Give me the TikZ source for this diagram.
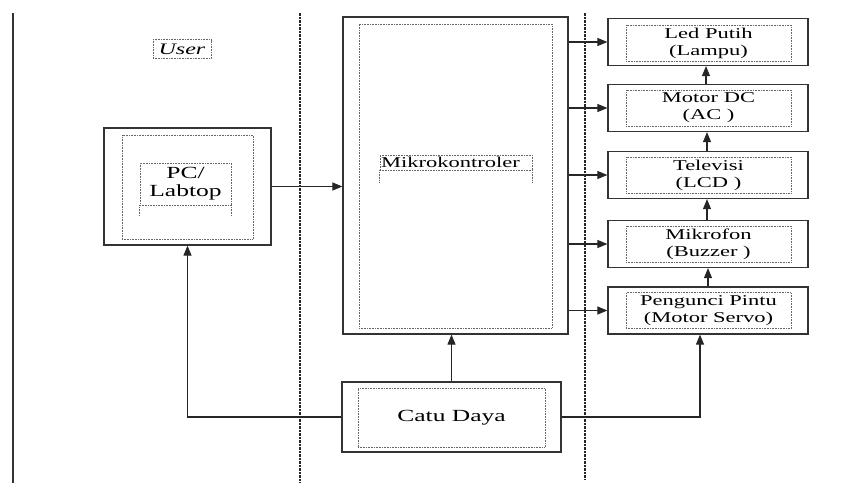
\documentclass[tikz,border=0pt]{standalone}
\usepackage{fontspec}
\setmainfont{Liberation Serif}[FakeStretch=1.5]
\newfontfamily\diagfont{Liberation Serif}[FakeStretch=1.5]
\usepackage{tikz}
\usetikzlibrary{positioning, arrows.meta, calc}

\begin{document}
\begin{tikzpicture}[
    x=1pt, y=-1pt,
    every node/.style={font=\diagfont\fontsize{15}{17}\selectfont, inner sep=1pt},
    outer/.style={draw=black!80, line width=1.2pt},
    inner/.style={draw=black!60, densely dotted, line width=0.6pt},
    lblbox/.style={draw=black!60, densely dotted, line width=0.6pt, align=center},
    arrow/.style={-{Triangle[length=10pt, width=8pt]}, line width=1.1pt, black!85},
    sepline/.style={black!85, line width=2pt, dash pattern=on 2.5pt off 1pt},
  ]

  \useasboundingbox (0,0) rectangle (866,483);

  % ---- Separators ----
  \draw[black!80, line width=1.1pt] (13,13) -- (13,483);
  \draw[sepline] (300,13) -- (300,483);
  \draw[sepline] (585,13) -- (585,480);

  % ---- User side ----
  \node[lblbox, minimum width=58pt, minimum height=19pt, font=\diagfont\fontsize{16}{17}\selectfont\itshape] (user) at (182,49) {User};
  \node[outer, minimum width=167pt, minimum height=117pt] (pc) at (187.5,186.5) {};
  \node[inner, minimum width=131pt, minimum height=104pt] (pcin) at (187.5,187) {};
  \node[lblbox, minimum width=91pt, minimum height=42pt, font=\diagfont\fontsize{17}{18}\selectfont] (pctxt) at (185.5,184) {PC/\\Labtop};
  \draw[inner] (pctxt.south west) -- ++(0,11);
  \draw[inner] (pctxt.south east) -- ++(0,11);

  % ---- Mikrokontroler ----
  \node[outer, minimum width=225pt, minimum height=317pt] (mikro) at (455.5,175.5) {};
  \node[inner, minimum width=193pt, minimum height=304pt] (mikroin) at (455.5,176) {};
  \node[lblbox, text width=150pt, align=left, minimum height=15pt] (mikrotxt) at (456,162.5) {Mikrokontroler};
  \draw[inner] (mikrotxt.south west) -- ++(0,12);
  \draw[inner] (mikrotxt.south east) -- ++(0,12);

  % ---- Output devices ----
  \node[outer, minimum width=200pt, minimum height=47pt] (led) at (708,42) {};
  \node[lblbox, minimum width=165pt, minimum height=36pt] (ledtxt) at (708.5,43) {Led Putih\\(Lampu)};

  \node[outer, minimum width=200pt, minimum height=47pt] (motor) at (708,108) {};
  \node[lblbox, minimum width=165pt, minimum height=36pt] (motortxt) at (708.5,108) {Motor DC\\(AC )};

  \node[outer, minimum width=200pt, minimum height=47pt] (tv) at (708,175) {};
  \node[lblbox, minimum width=165pt, minimum height=36pt] (tvtxt) at (708.5,175) {Televisi\\(LCD )};

  \node[outer, minimum width=200pt, minimum height=47pt] (mic) at (708,244) {};
  \node[lblbox, minimum width=165pt, minimum height=36pt] (mictxt) at (708.5,244) {Mikrofon\\(Buzzer )};

  \node[outer, minimum width=200pt, minimum height=47pt] (kunci) at (708,310.5) {};
  \node[lblbox, minimum width=165pt, minimum height=36pt] (kuncitxt) at (708.5,310.5) {Pengunci Pintu\\(Motor Servo)};

  % ---- Catu Daya ----
  \node[outer, minimum width=219pt, minimum height=70pt] (catu) at (451.5,417) {};
  \node[lblbox, minimum width=187pt, minimum height=59pt, font=\diagfont\fontsize{17}{18}\selectfont] (catutxt) at (451.5,417.5) {Catu Daya};

  % ---- Arrows ----
  \draw[arrow] (pc.east) -- (pc.east -| mikro.west);
  \foreach \n in {led, motor, tv, mic, kunci}
    \draw[arrow] (mikro.east |- \n.west) -- (\n.west);
  \draw[arrow] ([xshift=-2pt]motor.north) -- ([xshift=-2pt]led.south);
  \draw[arrow] ([xshift=-1pt]tv.north) -- ([xshift=-1pt]motor.south);
  \draw[arrow] ([xshift=-1pt]mic.north) -- ([xshift=-1pt]tv.south);
  \draw[arrow] (kunci.north) -- (mic.south);

  \draw[arrow] (catu.north) -- (catu.north |- mikro.south);
  \draw[arrow] (catu.west) -| (pc.south);
  \draw[arrow] (catu.east) -| ([xshift=-8pt]kunci.south);

\end{tikzpicture}
\end{document}
